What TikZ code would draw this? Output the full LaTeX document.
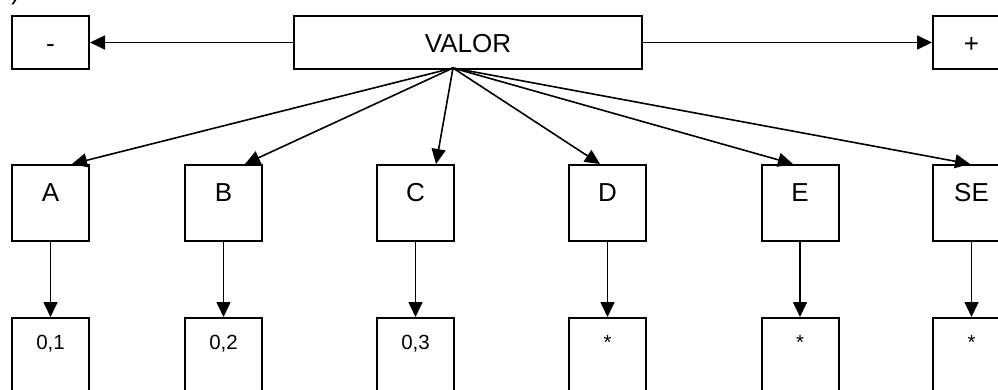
\documentclass[tikz,border=0pt]{standalone}
\usepackage{fontspec}
\setmainfont{Liberation Sans}
\usetikzlibrary{arrows.meta,calc}

\tikzset{
  cell/.style={draw=black, line width=2pt, fill=white, inner sep=0pt,
    minimum width=77pt, anchor=north,
    font=\fontsize{26}{30}\selectfont},
  toprow/.style={cell, text height=36.3pt, text depth=16.7pt},
  midrow/.style={cell, text height=36.3pt, text depth=39.7pt},
  lowrow/.style={cell, text height=31.7pt, text depth=60pt,
    font=\fontsize{20.5}{24}\selectfont},
  link/.style={line width=1.6pt, -{Triangle[length=15pt,width=14pt]}}
}

\begin{document}
\begin{tikzpicture}[x=1pt,y=-1pt]
  \clip (0,0) rectangle (998,389);
  \fill[white] (0,0) rectangle (998,389);

  % partially visible label in the top-left corner
  \node[anchor=base, inner sep=0pt, font=\fontsize{26}{30}\selectfont] (tag) at (15.5,-0.5) {)};

  % top row: value with its two directions
  \node[toprow, minimum width=348pt] (valor) at (468,15) {VALOR};
  \node[toprow] (minus) at (50.5,15) {-};
  \node[toprow] (plus) at (971.5,15) {+};
  \coordinate (hub) at (453,68);

  % middle row
  \node[midrow] (A)  at (50.5,164)  {A};
  \node[midrow] (B)  at (223.5,164) {B};
  \node[midrow] (C)  at (415.5,164) {C};
  \node[midrow] (D)  at (607.5,164) {D};
  \node[midrow] (E)  at (800,164)   {E};
  \node[midrow] (SE) at (971.5,164) {SE};

  % bottom row
  \node[lowrow] (a1) at (50.5,317)  {0,1};
  \node[lowrow] (b1) at (223.5,317) {0,2};
  \node[lowrow] (c1) at (415.5,317) {0,3};
  \node[lowrow] (d1) at (607.5,317) {*};
  \node[lowrow] (e1) at (800,317)   {*};
  \node[lowrow] (s1) at (971.5,317) {*};

  % horizontal connectors
  \draw[link] (valor.west) -- (minus.east);
  \draw[link] (valor.east) -- (plus.west);

  % fan-out from the value box
  \draw[link] (hub) -- ($(A.north)+(21.5,0)$);
  \draw[link] (hub) -- ($(B.north)+(21.5,0)$);
  \draw[link] (hub) -- ($(C.north)+(20.5,0)$);
  \draw[link] (hub) -- ($(D.north)+(-7.5,0)$);
  \draw[link] (hub) -- ($(E.north)+(-7,0)$);
  \draw[link] (hub) -- ($(SE.north)+(-1.5,0)$);

  % vertical connectors
  \draw[link] (A.south)  -- (a1.north);
  \draw[link] (B.south)  -- (b1.north);
  \draw[link] (C.south)  -- (c1.north);
  \draw[link] (D.south)  -- (d1.north);
  \draw[link] (E.south)  -- (e1.north);
  \draw[link] (SE.south) -- (s1.north);
\end{tikzpicture}
\end{document}
